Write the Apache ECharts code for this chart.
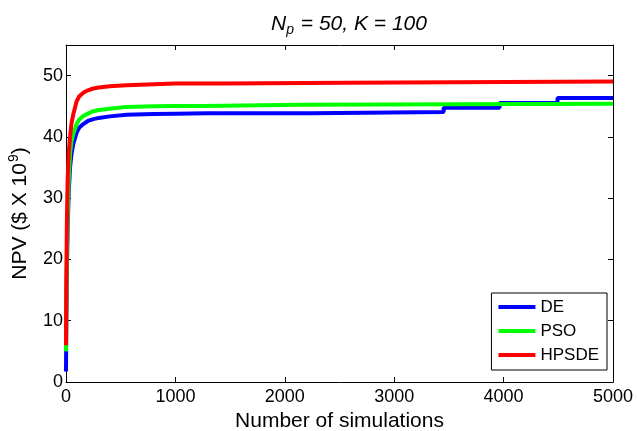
<!DOCTYPE html>
<html>
<head>
<meta charset="utf-8">
<script src="https://cdn.jsdelivr.net/npm/echarts@6/dist/echarts.min.js"></script>
<style>
  html, body { margin: 0; padding: 0; background: #fff; }
  #chart { width: 637px; height: 431px; }
</style>
</head>
<body>
<div id="chart"></div>
<script>
// values
const seriesNames = ["DE", "PSO", "HPSDE"];
const seriesColors = ["#0000ff", "#00ff00", "#ff0000"];

const deSims = [0, 3, 8, 15, 25, 37, 50, 67, 97, 120, 158, 200, 250, 300, 400, 554, 800, 1000, 1300, 2247, 2247, 3452, 3452, 3963, 3963, 4493, 4493, 5000];
const deNpv = [1.7, 10, 18, 25, 31, 35, 37.2, 38.9, 40.7, 41.5, 42.1, 42.6, 42.9, 43.1, 43.35, 43.6, 43.75, 43.8, 43.85, 43.85, 44.05, 44.05, 44.75, 44.75, 45.55, 45.55, 46.35, 46.35];

const psoSims = [0, 3, 8, 15, 25, 37, 50, 67, 97, 120, 158, 200, 250, 300, 400, 554, 800, 1000, 1250, 1250, 2137, 5000];
const psoNpv = [5, 13, 21, 27, 33, 37.2, 39.2, 40.5, 42.1, 42.8, 43.4, 43.8, 44.2, 44.4, 44.6, 44.9, 45.0, 45.05, 45.05, 45.2, 45.25, 45.4];

const hpsdeSims = [0, 3, 8, 15, 25, 37, 50, 67, 97, 120, 158, 200, 250, 300, 400, 554, 800, 1000, 1436, 1436, 2575, 2575, 5000];
const hpsdeNpv = [6, 16, 26, 33, 37.5, 40, 42.2, 43.7, 45.8, 46.6, 47.2, 47.6, 47.9, 48.05, 48.25, 48.45, 48.6, 48.7, 48.7, 48.85, 48.85, 49.05, 49.05];

const xTicks = [0, 1000, 2000, 3000, 4000, 5000];
const yTicks = [0, 10, 20, 30, 40, 50];

const pairs = (xs, ys) => xs.map((x, i) => [x, ys[i]]);
const allData = [pairs(deSims, deNpv), pairs(psoSims, psoNpv), pairs(hpsdeSims, hpsdeNpv)];

const font = "Liberation Sans, Arial, Helvetica, sans-serif";

const chart = echarts.init(document.getElementById("chart"));

const baseX = {
  type: "value",
  min: xTicks[0],
  max: xTicks[xTicks.length - 1],
  interval: 1000,
  axisLine: { show: true, onZero: false, lineStyle: { color: "#000", width: 1 } },
  axisTick: { show: true, inside: true, length: 5, lineStyle: { color: "#000" } },
  splitLine: { show: false },
};
const baseY = {
  type: "value",
  min: yTicks[0],
  max: 55,
  interval: 10,
  axisLine: { show: true, onZero: false, lineStyle: { color: "#000", width: 1 } },
  axisTick: { show: true, inside: true, length: 5, lineStyle: { color: "#000" } },
  splitLine: { show: false },
};

chart.setOption({
  animation: false,
  backgroundColor: "#fff",
  textStyle: { fontFamily: font },
  title: {
    text: "{i|N}{sub|p}{i| = 50, K = 100}",
    left: 344,
    textAlign: "center",
    top: 6,
    textStyle: {
      fontWeight: "normal",
      rich: {
        i: { fontFamily: font, fontStyle: "italic", fontWeight: "normal", fontSize: 21, color: "#000", lineHeight: 26 },
        sub: { fontFamily: font, fontStyle: "italic", fontWeight: "normal", fontSize: 14, color: "#000", verticalAlign: "bottom", padding: [9, 1, 0, 0] },
      },
    },
  },
  grid: { left: 66, right: 24, top: 45, bottom: 49, containLabel: false, outerBoundsMode: "none" },
  legend: {
    data: seriesNames,
    orient: "vertical",
    right: 30,
    top: 293,
    icon: "rect",
    itemWidth: 37,
    itemHeight: 4,
    itemGap: 6,
    padding: [5, 8, 6, 7],
    borderColor: "#000",
    borderWidth: 1,
    backgroundColor: "#fff",
    textStyle: { fontFamily: font, fontSize: 17, lineHeight: 18, color: "#000" },
  },
  xAxis: [
    Object.assign({}, baseX, {
      position: "bottom",
      name: "Number of simulations",
      nameLocation: "middle",
      nameGap: 27,
      nameTextStyle: { fontFamily: font, fontSize: 21, color: "#000" },
      axisLabel: { color: "#000", fontSize: 18, fontFamily: font, margin: 6, formatter: (v) => String(v) },
    }),
    Object.assign({}, baseX, { position: "top", axisLabel: { show: false } }),
  ],
  yAxis: [
    Object.assign({}, baseY, {
      position: "left",
      name: "{a|NPV ($ X 10}{sup|9}{a|)}",
      nameLocation: "middle",
      nameRotate: 90,
      nameGap: 33,
      nameTextStyle: {
        rich: {
          a: { fontFamily: font, fontSize: 21, color: "#000", lineHeight: 26 },
          sup: { fontFamily: font, fontSize: 14, color: "#000", verticalAlign: "top", padding: [0, 0, 9, 1] },
        },
      },
      axisLabel: { color: "#000", fontSize: 18, fontFamily: font, margin: 3, showMaxLabel: false },
    }),
    Object.assign({}, baseY, { position: "right", axisLabel: { show: false } }),
  ],
  series: seriesNames.map((name, i) => ({
    name: name,
    type: "line",
    data: allData[i],
    showSymbol: false,
    symbol: "none",
    color: seriesColors[i],
    lineStyle: { width: 4, color: seriesColors[i] },
  })),
});
</script>
</body>
</html>
